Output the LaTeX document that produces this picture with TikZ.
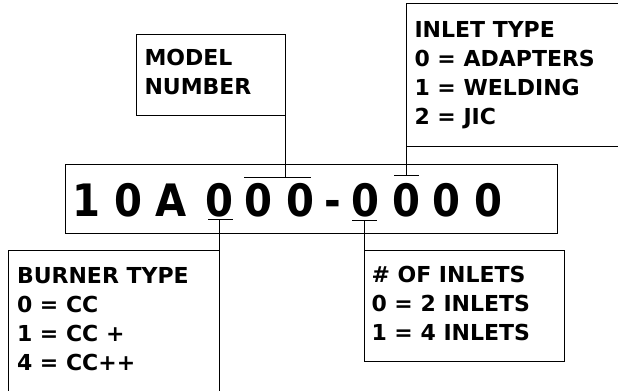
\documentclass[tikz,border=0pt]{standalone}
\usepackage{fontspec}
\setmainfont{DejaVu Sans}
\newfontfamily\codefont{DejaVu Sans Condensed}
\usetikzlibrary{calc}

\begin{document}
\begin{tikzpicture}[
    x=0.75pt, y=-0.75pt,
    line width=0.75pt,
    frame/.style={draw, inner sep=0pt, outer sep=0pt, anchor=north west},
    digit/.style={inner sep=0pt, anchor=base,
                  font=\codefont\fontsize{33.5}{40}\selectfont\bfseries},
    note/.style={inner sep=0pt, anchor=north west, align=left,
                 font=\fontsize{16.5}{21.75}\selectfont\bfseries}
  ]

  \useasboundingbox (0,0) rectangle (618,391);
  \clip (0,0) rectangle (618,391);

  % Code box and its characters
  \node[frame, minimum width=368.5pt, minimum height=52.05pt] (code) at (65.7,164.3) {};
  \foreach \x/\ch [count=\i] in {86.7/1, 128.3/0, 171/A, 219/0, 258.3/0, 300/0,
                                 333.3/-, 365.7/0, 406.7/0, 446.7/0, 488.3/0}
    \node[digit] (c\i) at (\x,216.7) {\ch};

  % Under- and overlines of the coded places
  \draw ([shift={(-11,3)}]c4.base) -- coordinate (ul4) ([shift={(14,3)}]c4.base);
  \draw ([shift={(-14.3,-39.4)}]c5.base) -- coordinate (ov56) ([shift={(10.7,-39.4)}]c6.base);
  \draw ([shift={(-13.7,4)}]c8.base) -- coordinate (ul8) ([shift={(11.3,4)}]c8.base);
  \draw ([shift={(-12.7,-40.7)}]c9.base) -- coordinate (ov9) ([shift={(12.3,-40.7)}]c9.base);

  % Description boxes
  \node[frame, minimum width=112.3pt, minimum height=61.05pt] (model) at (136,34.3) {};
  \node[note] (modeltxt) at (144,49) {MODEL\\NUMBER};

  \node[frame, minimum width=168pt, minimum height=107pt] (inlet) at (406,4) {};
  \node[note] (inlettxt) at (414,21)
    {INLET TYPE\\0 = ADAPTERS\\1 = WELDING\\2 = JIC};

  \node[frame, minimum width=158.4pt, minimum height=120pt] (burner) at (8.3,250.7) {};
  \node[note] (burnertxt) at (16.5,267.3)
    {BURNER TYPE\\0 = CC\\1 = CC +\\4 = CC++};

  \node[frame, minimum width=149.8pt, minimum height=83.25pt] (inlets) at (364.3,250.7) {};
  \node[note] (inletstxt) at (371,265.7)
    {\# OF INLETS\\0 = 2 INLETS\\1 = 4 INLETS};

  % Connectors from boxes to code
  \draw (model.south east) -- (model.south east |- ov56);
  \draw (inlet.south west) -- (inlet.south west |- ov9);
  \draw (burner.north east |- ul4) -- (burner.north east);
  \draw (inlets.north west |- ul8) -- (inlets.north west);

\end{tikzpicture}
\end{document}
